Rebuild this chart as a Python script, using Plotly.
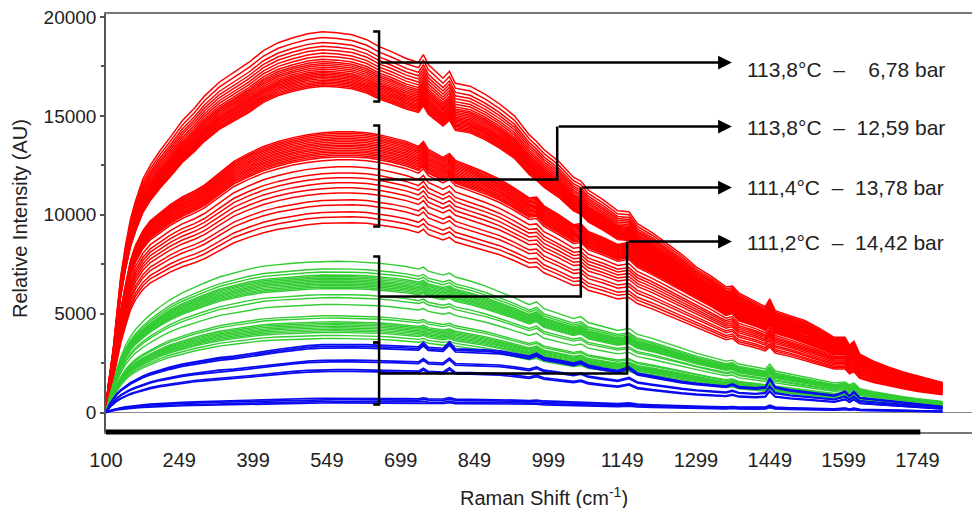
import plotly.graph_objects as go

# ---------------- data ----------------
shift_cm = [100, 104, 108, 115, 122, 130, 140, 150, 160, 175, 190, 210, 230, 255, 280, 300, 330, 360, 390,
            420, 450, 480, 510, 540, 570, 600, 630, 655, 680, 710, 735, 745, 755, 785, 798, 810, 840, 870,
            900, 930, 960, 975, 990, 1020, 1050, 1065, 1080, 1110, 1140, 1163, 1180, 1210, 1240, 1270, 1300,
            1330, 1360, 1373, 1386, 1420, 1440, 1449, 1460, 1490, 1520, 1550, 1580, 1602, 1611, 1620, 1632,
            1660, 1690, 1720, 1750, 1780, 1800]

# top spectrum of each group (AU)
red1_top = [0, 1300, 2000, 3300, 5000, 6900, 8500, 9800, 10700, 11800, 12500, 13250, 13900, 14750, 15400,
            16000, 16700, 17200, 17700, 18300, 18700, 18950, 19150, 19250, 19200, 19100, 18850, 18500, 18250,
            17900, 17700, 18100, 17600, 16900, 17250, 16650, 16500, 16100, 15600, 15000, 14050, 13700, 13300,
            12700, 11900, 11700, 11250, 10760, 10200, 10150, 9550, 9100, 8550, 8000, 7350, 6900, 6350, 6400,
            6050, 5600, 5350, 5750, 5150, 4900, 4650, 4250, 3800, 3800, 3400, 3600, 2950, 2600, 2300, 2050,
            1850, 1650, 1520]
red2_top = [0, 900, 1600, 2600, 3800, 5200, 6500, 7700, 8450, 9200, 9700, 10100, 10500, 10900, 11200, 11500,
            12100, 12700, 13100, 13450, 13700, 13900, 14050, 14150, 14200, 14200, 14150, 14050, 13900, 13700,
            13450, 13700, 13300, 12900, 13100, 12750, 12450, 12150, 11800, 11350, 10850, 10900, 10450, 10000,
            9500, 9550, 9150, 8850, 8500, 8600, 8150, 7750, 7300, 6850, 6400, 5950, 5450, 5550, 5150, 4850,
            4600, 4900, 4450, 4200, 3900, 3600, 3250, 3250, 2900, 3050, 2550, 2250, 2000, 1780, 1580, 1430, 1320]
green_top = [0, 500, 900, 1500, 2200, 2800, 3400, 3850, 4200, 4600, 4950, 5350, 5700, 6050, 6350, 6550, 6850,
             7050, 7250, 7400, 7480, 7550, 7600, 7640, 7650, 7630, 7600, 7550, 7480, 7380, 7250, 7350, 7150,
             6950, 7050, 6850, 6650, 6400, 6100, 5800, 5450, 5600, 5250, 5000, 4750, 4850, 4550, 4350, 4150,
             4250, 3950, 3750, 3500, 3250, 3000, 2800, 2600, 2650, 2450, 2300, 2200, 2450, 2100, 1950, 1800,
             1650, 1500, 1550, 1400, 1500, 1200, 1050, 920, 800, 700, 620, 560]
blue_top = [0, 250, 450, 700, 950, 1150, 1350, 1520, 1650, 1850, 2000, 2170, 2300, 2450, 2570, 2650, 2780,
            2850, 2950, 3080, 3200, 3300, 3380, 3430, 3450, 3440, 3430, 3400, 3380, 3350, 3320, 3550, 3300,
            3250, 3580, 3220, 3200, 3170, 3120, 3000, 2850, 3000, 2780, 2650, 2500, 2600, 2400, 2250, 2120,
            2300, 2000, 1850, 1700, 1580, 1480, 1400, 1340, 1450, 1310, 1250, 1300, 1750, 1300, 1150, 1050,
            950, 870, 1080, 850, 1060, 760, 680, 600, 500, 420, 350, 300]

# relative level of every spectrum inside its group
red1_levels = [1.0, 0.985, 0.972, 0.962, 0.953, 0.944, 0.936, 0.928, 0.922, 0.917, 0.912, 0.907, 0.902,
               0.897, 0.893, 0.889, 0.885, 0.881, 0.877, 0.873, 0.869, 0.865, 0.861, 0.857]
red2_levels = [1.0, 0.994, 0.988, 0.982, 0.976, 0.970, 0.964, 0.958, 0.952, 0.946, 0.940, 0.934, 0.928,
               0.922, 0.916, 0.910, 0.900, 0.875, 0.853, 0.836, 0.818, 0.800, 0.782, 0.758, 0.740, 0.715,
               0.697, 0.676]
green_levels = [1.0, 0.95, 0.93, 0.91, 0.90, 0.89, 0.88, 0.87, 0.86, 0.85, 0.84, 0.83, 0.82, 0.78, 0.76,
                0.715, 0.64, 0.625, 0.60, 0.59, 0.58, 0.57, 0.56, 0.55, 0.54, 0.53, 0.51, 0.49]
blue_levels = [1.0, 0.975, 0.95, 0.77, 0.745, 0.63, 0.605, 0.21, 0.19, 0.16, 0.14]

x_ticks = [100, 249, 399, 549, 699, 849, 999, 1149, 1299, 1449, 1599, 1749]
y_ticks = [0, 5000, 10000, 15000, 20000]

group_labels = ["113,8°C  –  \u20076,78 bar", "113,8°C  –  12,59 bar",
                "111,4°C  –  13,78 bar", "111,2°C  –  14,42 bar"]
# bracket spans (AU) around each group at the bracket position
bracket_spans = [(19262, 15723), (14510, 9403), (7887, 3539), (3539, 404)]
bracket_mid = [17695, 11780, 5865, 1972]
arrow_levels = [17695, 14460, 11375, 8645]
label_levels = [17340, 14410, 11375, 8595]
riser_x = [None, 1017, 1065, 1159]

RED, GREEN, BLUE = "#FF0000", "#33CC33", "#0A0AF0"

fig = go.Figure()

def add_group(top, levels, color, width):
    for lv in levels:
        fig.add_trace(go.Scatter(x=shift_cm, y=[v * lv for v in top], mode="lines",
                                 line=dict(color=color, width=width), showlegend=False,
                                 hoverinfo="skip"))

add_group(red1_top, red1_levels, RED, 1.5)
add_group(red2_top, red2_levels, RED, 1.5)
add_group(green_top, green_levels, GREEN, 1.4)
add_group(blue_top, blue_levels, BLUE, 1.7)

BX, SERIF, TIP, TEXT_X = 655, 643, 1372, 1399
shapes = []
annotations = []
for i in range(4):
    top, bot = bracket_spans[i]
    shapes.append(dict(type="path", xref="x", yref="y",
                       path=f"M {SERIF},{top} L {BX},{top} L {BX},{bot} L {SERIF},{bot}",
                       line=dict(color="black", width=2.5)))
    start_x = BX
    if riser_x[i] is not None:
        shapes.append(dict(type="path", xref="x", yref="y",
                           path=f"M {BX},{bracket_mid[i]} L {riser_x[i]},{bracket_mid[i]} L {riser_x[i]},{arrow_levels[i]}",
                           line=dict(color="black", width=2.5)))
        start_x = riser_x[i]
    annotations.append(dict(x=TIP, y=arrow_levels[i], ax=start_x, ay=arrow_levels[i], xref="x", yref="y",
                            axref="x", ayref="y", showarrow=True, arrowhead=2, arrowsize=1.1,
                            arrowwidth=2.5, arrowcolor="black", text=""))
    annotations.append(dict(x=TEXT_X, y=label_levels[i], xref="x", yref="y", text=group_labels[i],
                            showarrow=False, xanchor="left", yanchor="middle",
                            font=dict(family="Liberation Sans, Arial, sans-serif", size=21, color="#222")))

# thick black bar along the bottom axis
shapes.append(dict(type="line", xref="x", yref="paper", x0=100, x1=1755, y0=0, y1=0,
                   line=dict(color="black", width=5)))

annotations.append(dict(text="Relative Intensity (AU)", xref="paper", yref="paper", x=-0.0993, y=0.5096,
                        textangle=-90, showarrow=False, xanchor="center", yanchor="middle",
                        font=dict(family="Liberation Sans, Arial, sans-serif", size=20, color="#222")))
annotations.append(dict(text="Raman Shift (cm<sup>-1</sup>)", xref="paper", yref="paper", x=0.5058,
                        y=-0.1555, showarrow=False, xanchor="center", yanchor="middle",
                        font=dict(family="Liberation Sans, Arial, sans-serif", size=20, color="#222")))

fig.update_layout(
    width=972, height=508, margin=dict(l=106, r=0, t=14, b=76),
    paper_bgcolor="white", plot_bgcolor="white", hovermode=False,
    shapes=shapes, annotations=annotations,
    xaxis=dict(range=[100, 1860], tickvals=x_ticks, ticktext=[str(v) for v in x_ticks],
               showgrid=False, zeroline=False, showline=True, mirror=True, linecolor="#777",
               linewidth=1.5, ticks="", ticklabelstandoff=9,
               tickfont=dict(family="Liberation Sans Narrow, Arial Narrow, Liberation Sans, sans-serif",
                             size=20, color="#222")),
    yaxis=dict(range=[-985, 20150], tickvals=y_ticks, tickformat="d", showgrid=False,
               zeroline=True, zerolinecolor="#888", zerolinewidth=1.2,
               showline=True, linecolor="#555", linewidth=1.5, ticks="outside", ticklen=4,
               tickcolor="#555", tickwidth=1.5,
               minor=dict(ticks="outside", ticklen=3, dtick=2500, tick0=0, tickcolor="#555"),
               tickfont=dict(family="Liberation Sans, Arial, sans-serif", size=19, color="#222")),
)

fig.write_html("out.html")
